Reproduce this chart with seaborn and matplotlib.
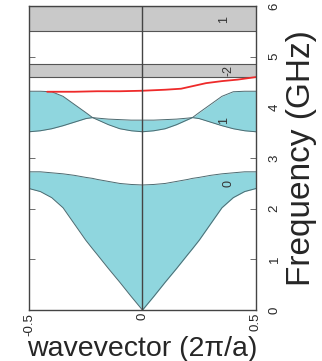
import numpy as np
import pandas as pd
import matplotlib
matplotlib.use("Agg")
import matplotlib.pyplot as plt
import seaborn as sns

# wavevector grid (2pi/a)
k = [-0.5, -0.45, -0.4, -0.35, -0.3, -0.25, -0.22, -0.2, -0.15, -0.1, -0.05, 0.0,
     0.05, 0.1, 0.15, 0.2, 0.22, 0.25, 0.3, 0.35, 0.4, 0.45, 0.5]

# band 0 edges (GHz)
band0_low = [2.40, 2.34, 2.22, 2.02, 1.70, 1.38, 1.21, 1.10, 0.82, 0.55, 0.27, 0.0,
             0.27, 0.55, 0.82, 1.10, 1.21, 1.38, 1.70, 2.02, 2.22, 2.34, 2.40]
band0_high = [2.73, 2.73, 2.71, 2.69, 2.66, 2.62, 2.60, 2.58, 2.54, 2.50, 2.48, 2.47,
              2.48, 2.50, 2.54, 2.58, 2.60, 2.62, 2.66, 2.69, 2.71, 2.73, 2.73]

# band 1: two crossing branches
band1_a = [4.32, 4.32, 4.31, 4.22, 4.06, 3.90, 3.80, 3.76, 3.66, 3.58, 3.54, 3.52,
           3.54, 3.58, 3.66, 3.76, 3.80, 3.90, 4.06, 4.22, 4.31, 4.32, 4.32]
band1_b = [3.52, 3.54, 3.58, 3.64, 3.71, 3.78, 3.80, 3.79, 3.77, 3.76, 3.75, 3.75,
           3.75, 3.76, 3.77, 3.79, 3.80, 3.78, 3.71, 3.64, 3.58, 3.54, 3.52]

# red mode
red_k = [-0.42, -0.3, -0.2, -0.1, 0.0, 0.1, 0.17, 0.22, 0.28, 0.35, 0.42, 0.5]
red_f = [4.31, 4.31, 4.32, 4.32, 4.33, 4.35, 4.37, 4.42, 4.48, 4.52, 4.55, 4.60]

# gray bands (GHz)
gray_bands = [(4.60, 4.85), (5.50, 6.00)]

# band labels
label_text = ["0", "1", "-2", "1"]
label_k = [0.377, 0.36, 0.377, 0.36]
label_f = [2.50, 3.75, 4.73, 5.74]

sns.set_style("white")
plt.rcParams["font.family"] = ["Liberation Sans", "DejaVu Sans"]

fig = plt.figure(figsize=(3.22, 3.61), dpi=100)
ax = fig.add_axes([0.090, 0.141, 0.705, 0.842])

cyan = "#8fd6de"
edge = "#4d6a70"

ax.fill_between(k, band0_low, band0_high, color=cyan, lw=0)
ax.fill_between(k, band1_a, band1_b, color=cyan, lw=0)
for lo, hi in gray_bands:
    ax.axhspan(lo, hi, color="#c9c9c9", lw=0)
    ax.axhline(lo, color="#555555", lw=0.8)
    ax.axhline(hi, color="#555555", lw=0.8)

df = pd.DataFrame({"k": k, "b0l": band0_low, "b0h": band0_high,
                   "b1a": band1_a, "b1b": band1_b})
for col in ["b0l", "b0h", "b1a", "b1b"]:
    sns.lineplot(data=df, x="k", y=col, ax=ax, color=edge, lw=0.7, sort=False)

sns.lineplot(x=red_k, y=red_f, ax=ax, color="#ee2a2a", lw=1.3, sort=False)
ax.axvline(0, color="#444444", lw=1.0)

for t, xk, yf in zip(label_text, label_k, label_f):
    ax.text(xk, yf, t, rotation=90, fontsize=9, color="#333333",
            ha="center", va="center")

ax.set_xlim(-0.5, 0.5)
ax.set_ylim(0, 6)
ax.set_xticks([-0.5, 0, 0.5])
ax.set_xticklabels(["-0.5", "0", "0.5"], rotation=90)
ax.set_yticks([0, 1, 2, 3, 4, 5, 6])
ax.set_yticklabels(["0", "1", "2", "3", "4", "5", "6"], rotation=90, va="center")
ax.tick_params(axis="y", direction="in", length=4, width=0.6, color="#555555",
               left=True, right=True, labelleft=False, labelright=True,
               labelsize=9.5, pad=9)
ax.tick_params(axis="x", direction="in", length=0, labelsize=9.5, pad=2)
for s in ax.spines.values():
    s.set_color("#444444")
    s.set_linewidth(1.0)

ax.set_xlabel("wavevector (2\u03c0/a)", fontsize=20.5, labelpad=0)
ax.yaxis.set_label_position("right")
ax.set_ylabel("Frequency (GHz)", fontsize=24, rotation=90, labelpad=4)

fig.savefig("out.png", dpi=100)
